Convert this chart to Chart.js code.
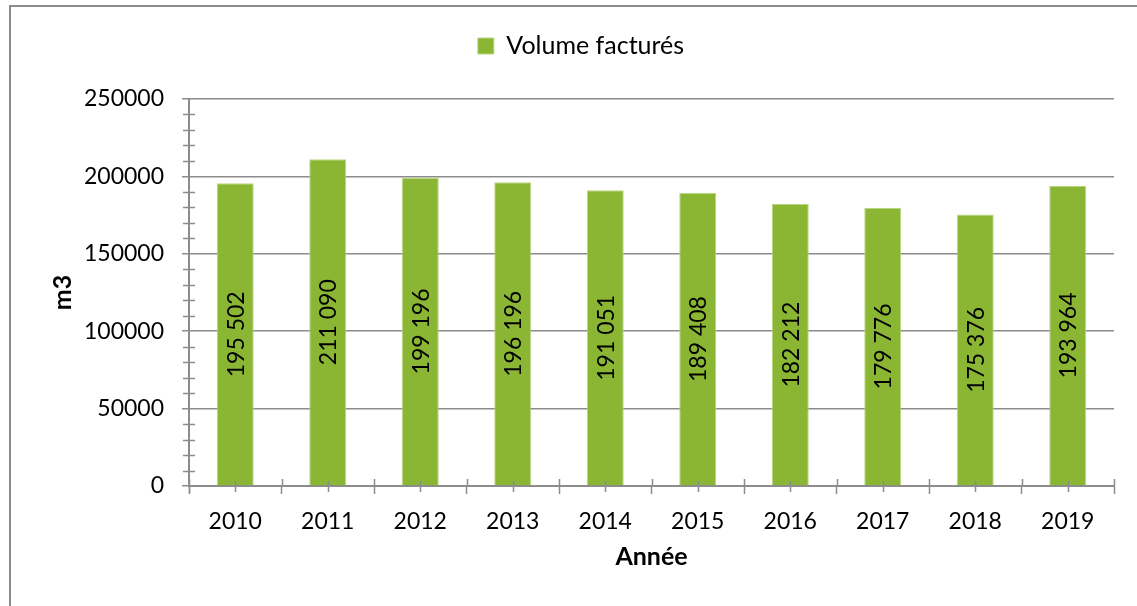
<!DOCTYPE html>
<html>
<head>
<meta charset="utf-8">
<script src="https://cdn.jsdelivr.net/npm/chart.js@4"></script>
<style>
  html, body { margin: 0; padding: 0; background: #fff; }
  #wrap { width: 1137px; height: 606px; position: relative; }
</style>
</head>
<body>
<div id="wrap"><canvas id="c" width="1137" height="606"></canvas></div>
<script>
const categories = ['2010', '2011', '2012', '2013', '2014', '2015', '2016', '2017', '2018', '2019'];
const volumes = [195502, 211090, 199196, 196196, 191051, 189408, 182212, 179776, 175376, 193964];
const seriesName = 'Volume facturés';
const yMax = 250000;
const yMajorStep = 50000;
const yMinorStep = 10000;

const FONT = 'Lato, "Open Sans", "Noto Sans", sans-serif';
const GRAY = '#8c8c8c';
const GREEN = '#8ab634';
const PAD_LEFT = 48;

function fmt(v) {
  return String(v).replace(/\B(?=(\d{3})+(?!\d))/g, ' ');
}

const framePlugin = {
  id: 'frame',
  beforeDraw(chart) {
    const ctx = chart.ctx;
    ctx.save();
    ctx.fillStyle = '#fff';
    ctx.fillRect(0, 0, chart.width, chart.height);
    ctx.strokeStyle = GRAY;
    ctx.lineWidth = 2;
    ctx.beginPath();
    ctx.moveTo(10, chart.height + 5);
    ctx.lineTo(10, 6);
    ctx.lineTo(chart.width + 5, 6);
    ctx.stroke();
    ctx.restore();
  }
};

const minorTicksPlugin = {
  id: 'minorTicks',
  afterDraw(chart) {
    const ctx = chart.ctx;
    const y = chart.scales.y;
    const x = chart.scales.x;
    ctx.save();
    ctx.strokeStyle = GRAY;
    ctx.lineWidth = 1.5;
    ctx.beginPath();
    for (let v = 0; v <= yMax; v += yMinorStep) {
      if (v % yMajorStep === 0) continue;
      const py = Math.round(y.getPixelForValue(v)) + 0.5;
      ctx.moveTo(y.right - 6, py);
      ctx.lineTo(y.right + 6, py);
    }
    const base = x.top;
    categories.forEach((c, i) => {
      const px = Math.round(x.getPixelForValue(i)) + 0.5;
      ctx.moveTo(px, base - 5);
      ctx.lineTo(px, base + 6);
    });
    for (let i = 0; i <= categories.length; i++) {
      const px = Math.round(x.getPixelForValue(i - 0.5)) + 0.5;
      ctx.moveTo(px, base - 7);
      ctx.lineTo(px, base);
    }
    ctx.moveTo(y.right + 0.5, base);
    ctx.lineTo(y.right + 0.5, base + 7);
    ctx.stroke();
    ctx.restore();
  }
};

const barLabelsPlugin = {
  id: 'barLabels',
  afterDatasetsDraw(chart) {
    const ctx = chart.ctx;
    const meta = chart.getDatasetMeta(0);
    const data = chart.data.datasets[0].data;
    ctx.save();
    ctx.fillStyle = '#000';
    ctx.font = '23px ' + FONT;
    ctx.textAlign = 'center';
    ctx.textBaseline = 'middle';
    meta.data.forEach((bar, i) => {
      const cy = (bar.y + bar.base) / 2;
      ctx.save();
      ctx.translate(bar.x + 1, cy);
      ctx.rotate(-Math.PI / 2);
      ctx.fillText(fmt(data[i]), 0, 0);
      ctx.restore();
    });
    ctx.restore();
  }
};

new Chart(document.getElementById('c'), {
  type: 'bar',
  data: {
    labels: categories,
    datasets: [{
      label: seriesName,
      data: volumes,
      backgroundColor: GREEN,
      borderColor: '#b9d683',
      borderWidth: 1,
      borderSkipped: 'bottom',
      categoryPercentage: 1.0,
      barPercentage: 0.4
    }]
  },
  options: {
    responsive: false,
    animation: false,
    devicePixelRatio: 1,
    layout: { padding: { left: PAD_LEFT, right: 23, top: 3, bottom: 0 } },
    plugins: {
      legend: {
        display: true,
        position: 'top',
        labels: {
          font: { family: FONT, size: 25 },
          color: '#000',
          boxWidth: 16,
          boxHeight: 16,
          padding: 30.5
        }
      },
      tooltip: { enabled: false }
    },
    scales: {
      x: {
        afterFit(s) { s.height = 120; },
        grid: {
          display: true,
          offset: true,
          drawOnChartArea: false,
          drawTicks: true,
          tickLength: 8,
          tickColor: GRAY,
          tickWidth: 1.5
        },
        border: { display: true, color: GRAY, width: 2 },
        ticks: {
          color: '#000',
          font: { family: FONT, size: 23 },
          padding: 14,
          maxRotation: 0
        },
        title: {
          display: true,
          text: 'Année',
          color: '#000',
          font: { family: FONT, size: 25, weight: 'bold' },
          padding: { top: 0, bottom: 34 }
        }
      },
      xTopSpacer: {
        type: 'category',
        position: 'top',
        display: true,
        afterFit(s) { s.height = 30.5; },
        grid: { display: false, drawTicks: false },
        border: { display: false },
        ticks: { display: false }
      },
      y: {
        min: 0,
        max: yMax,
        afterFit(s) { s.width = 189 - PAD_LEFT; },
        grid: {
          color: GRAY,
          lineWidth: 1.5,
          drawTicks: true,
          tickLength: 7,
          tickColor: GRAY,
          tickWidth: 1.5
        },
        border: { display: true, color: GRAY, width: 2 },
        ticks: {
          stepSize: yMajorStep,
          color: '#000',
          font: { family: FONT, size: 23 },
          padding: 18,
          callback: (v) => String(v)
        },
        title: {
          display: true,
          text: 'm3',
          color: '#000',
          font: { family: FONT, size: 25, weight: 'bold' },
          padding: { top: 0, bottom: 0 }
        }
      }
    }
  },
  plugins: [framePlugin, minorTicksPlugin, barLabelsPlugin]
});
</script>
</body>
</html>
